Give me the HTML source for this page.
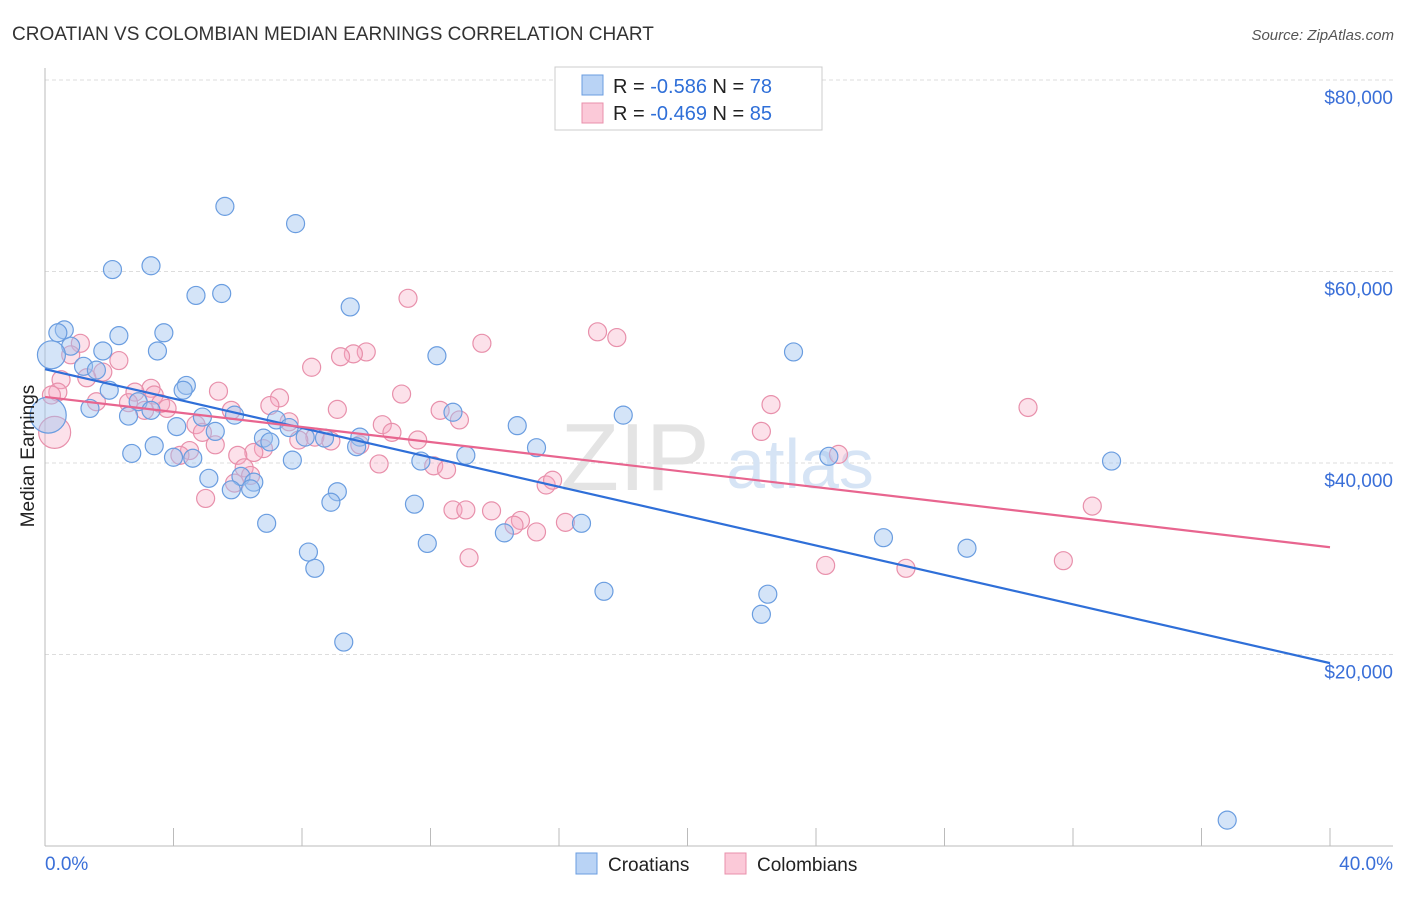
<!DOCTYPE html>
<html><head><meta charset="utf-8"><style>
body{margin:0;background:#fff;font-family:"Liberation Sans",sans-serif;}
svg text{font-family:"Liberation Sans",sans-serif;}
</style></head><body>
<svg width="1406" height="892" viewBox="0 0 1406 892">
<text x="12" y="40" font-size="19" fill="#333">CROATIAN VS COLOMBIAN MEDIAN EARNINGS CORRELATION CHART</text>
<text x="1394" y="40" font-size="15" fill="#555" font-style="italic" text-anchor="end">Source: ZipAtlas.com</text>
<g id="grid"></g>
<text x="635" y="490" font-size="96" fill="#e4e4e4" text-anchor="middle" font-family="Liberation Serif">ZIP</text>
<text x="800" y="488" font-size="70" fill="#d6e4f5" text-anchor="middle">atlas</text>
<g id="pts"></g>
<g id="lines"></g>
<text transform="translate(34,456) rotate(-90)" font-size="19" fill="#222" text-anchor="middle">Median Earnings</text>
<text x="45" y="870" font-size="19" fill="#3a6fd8">0.0%</text>
<text x="1393" y="870" font-size="19" fill="#3a6fd8" text-anchor="end">40.0%</text>
<g>
<rect x="555" y="67" width="267" height="63" fill="#fff" stroke="#ccc"/>
<rect x="582" y="75" width="21" height="20" fill="#b9d3f5" stroke="#6a9de0"/>
<rect x="582" y="103" width="21" height="20" fill="#fbc9d8" stroke="#e890ab"/>
<text x="613" y="93" font-size="20" fill="#222">R = <tspan fill="#2f6fd8">-0.586</tspan>   N = <tspan fill="#2f6fd8">78</tspan></text>
<text x="613" y="120" font-size="20" fill="#222">R = <tspan fill="#2f6fd8">-0.469</tspan>   N = <tspan fill="#2f6fd8">85</tspan></text>
</g>
<g>
<rect x="576" y="853" width="21" height="21" fill="#b9d3f5" stroke="#6a9de0"/>
<text x="608" y="871" font-size="19" fill="#222">Croatians</text></g>
<g>
<rect x="725" y="853" width="21" height="21" fill="#fbc9d8" stroke="#e890ab"/>
<text x="757" y="871" font-size="19" fill="#222">Colombians</text></g>
</svg>
<script>
const yTicks=[20,40,60,80];
const yTickLabels=["$20,000","$40,000","$60,000","$80,000"];
const xTicks=[0,4,8,12,16,20,24,28,32,36,40];
const croX=[5.6,7.8,2.1,3.3,4.7,5.5,9.5,0.6,0.4,2.3,3.7,0.8,1.8,3.5,12.2,23.3,0.2,1.2,1.6,4.4,4.3,2.0,2.9,3.3,2.6,1.4,4.9,5.9,4.1,5.3,7.2,7.6,6.8,7.0,8.1,8.7,9.8,12.7,14.7,18.0,3.4,2.7,4.0,4.6,7.7,9.7,11.7,13.1,15.3,24.4,33.2,5.1,6.1,6.5,5.8,6.4,9.1,8.9,11.5,6.9,16.7,14.3,11.9,26.1,28.7,8.2,8.4,17.4,22.5,22.3,9.3,36.8,0.1];
const croY=[66.8,65.0,60.2,60.6,57.5,57.7,56.3,53.9,53.6,53.3,53.6,52.2,51.7,51.7,51.2,51.6,51.3,50.1,49.7,48.1,47.6,47.6,46.4,45.5,44.9,45.7,44.8,45.0,43.8,43.3,44.5,43.7,42.6,42.2,42.7,42.6,42.7,45.3,43.9,45.0,41.8,41.0,40.6,40.5,40.3,41.7,40.2,40.8,41.6,40.7,40.2,38.4,38.6,38.0,37.2,37.3,37.0,35.9,35.7,33.7,33.7,32.7,31.6,32.2,31.1,30.7,29.0,26.6,26.3,24.2,21.3,2.7,45.0];
const croR=[9,9,9,9,9,9,9,9,9,9,9,9,9,9,9,9,14,9,9,9,9,9,9,9,9,9,9,9,9,9,9,9,9,9,9,9,9,9,9,9,9,9,9,9,9,9,9,9,9,9,9,9,9,9,9,9,9,9,9,9,9,9,9,9,9,9,9,9,9,9,9,9,18];
const colX=[11.3,17.2,17.8,13.6,1.1,10.0,9.6,9.2,8.3,2.3,0.8,1.8,1.3,0.5,0.4,0.2,0.3,5.4,3.3,3.4,2.8,11.1,7.3,2.6,3.6,3.8,1.6,3.1,5.8,7.0,9.1,12.3,12.9,22.6,30.6,10.5,7.6,4.7,4.9,10.8,11.6,9.8,22.3,8.4,7.9,8.9,6.8,6.5,6.0,5.3,4.5,4.2,10.4,12.1,12.5,6.2,6.4,5.9,5.0,15.6,15.8,24.7,12.7,13.1,13.9,14.8,14.6,15.3,16.2,32.6,13.2,24.3,26.8,31.7];
const colY=[57.2,53.7,53.1,52.5,52.5,51.6,51.4,51.1,50.0,50.7,51.3,49.5,48.9,48.7,47.4,47.1,43.2,47.5,47.8,47.1,47.4,47.2,46.8,46.3,46.2,45.7,46.4,45.5,45.5,46.0,45.6,45.5,44.5,46.1,45.8,44.0,44.3,44.0,43.2,43.2,42.4,41.9,43.3,42.7,42.4,42.3,41.5,41.1,40.8,41.9,41.3,40.8,39.9,39.7,39.3,39.5,38.7,37.9,36.3,37.7,38.2,40.9,35.1,35.1,35.0,34.0,33.5,32.8,33.8,35.5,30.1,29.3,29.0,29.8];
const colR=[9,9,9,9,9,9,9,9,9,9,9,9,9,9,9,9,16,9,9,9,9,9,9,9,9,9,9,9,9,9,9,9,9,9,9,9,9,9,9,9,9,9,9,9,9,9,9,9,9,9,9,9,9,9,9,9,9,9,9,9,9,9,9,9,9,9,9,9,9,9,9,9,9,9];
const trendX=[0,40];
const croTrend=[49.8,19.1];
const colTrend=[46.9,31.2];
const X0=45,X1=1330,Y0=846,PX=191.5/20;
function sx(v){return X0+(X1-X0)*v/40;}
function sy(v){return Y0-v*PX;}
const NS="http://www.w3.org/2000/svg";
function mk(t,a){const e=document.createElementNS(NS,t);for(const k in a)e.setAttribute(k,a[k]);return e;}
const grid=document.getElementById('grid');
yTicks.forEach((t,i)=>{
 const l=mk('line',{x1:45,x2:1393,y1:sy(t),y2:sy(t),stroke:'#ddd','stroke-dasharray':'4,3'});
 
 
 grid.appendChild(l);
 const tx=mk('text',{x:1393,y:sy(t)+24,'font-size':19,fill:'#3a6fd8','text-anchor':'end'});
 tx.textContent=yTickLabels[i];
 
 
 grid.appendChild(tx);
});
const ax=mk('line',{x1:45,x2:45,y1:68,y2:846,stroke:'#bbb'});


grid.appendChild(ax);
const bx=mk('line',{x1:45,x2:1393,y1:846,y2:846,stroke:'#bbb'});


grid.appendChild(bx);
xTicks.forEach(t=>{
 const l=mk('line',{x1:sx(t),x2:sx(t),y1:828,y2:846,stroke:'#bbb'});
 
 
 grid.appendChild(l);
});
const pts=document.getElementById('pts');
colX.forEach((v,i)=>{
 const c=mk('circle',{cx:sx(v),cy:sy(colY[i]),r:colR[i],fill:'rgba(246,170,195,0.35)',stroke:'#e890ab','stroke-width':1.2});
 
 
 pts.appendChild(c);
});
croX.forEach((v,i)=>{
 const c=mk('circle',{cx:sx(v),cy:sy(croY[i]),r:croR[i],fill:'rgba(160,196,240,0.45)',stroke:'#6a9de0','stroke-width':1.2});
 
 
 pts.appendChild(c);
});
const lines=document.getElementById('lines');
const lb=mk('line',{x1:sx(trendX[0]),y1:sy(croTrend[0]),x2:sx(trendX[1]),y2:sy(croTrend[1]),stroke:'#2f6fd8','stroke-width':2.2});


lines.appendChild(lb);
const lp=mk('line',{x1:sx(trendX[0]),y1:sy(colTrend[0]),x2:sx(trendX[1]),y2:sy(colTrend[1]),stroke:'#e8658f','stroke-width':2.2});


lines.appendChild(lp);
</script>
</body></html>
